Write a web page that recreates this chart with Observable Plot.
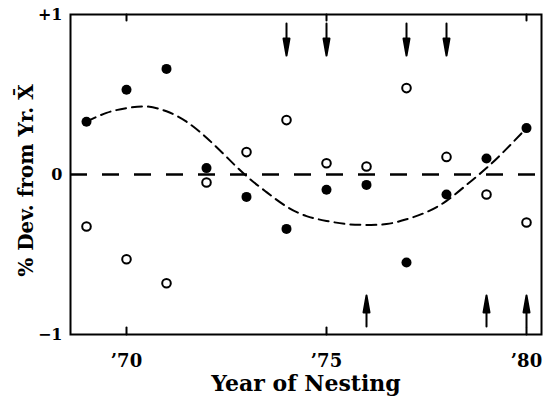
<!DOCTYPE html>
<html><head><meta charset="utf-8">
<script src="https://cdn.jsdelivr.net/npm/d3@7"></script>
<script src="https://cdn.jsdelivr.net/npm/@observablehq/plot@0.6"></script>
<style>body{margin:0;background:#fff}</style>
</head><body><div id="chart"></div>
<script>
// Years of nesting
const years = [1969, 1970, 1971, 1972, 1973, 1974, 1975, 1976, 1977, 1978, 1979, 1980];
// Filled circles (% deviation from yearly mean)
const filledValues = [0.33, 0.53, 0.66, 0.04, -0.14, -0.34, -0.095, -0.065, -0.55, -0.125, 0.10, 0.29];
// Open circles
const openValues = [-0.325, -0.53, -0.68, -0.05, 0.14, 0.34, 0.07, 0.05, 0.54, 0.11, -0.125, -0.30];
// Fitted dashed curve
const curveYears = [1969, 1969.5, 1970, 1970.5, 1971, 1971.5, 1972, 1972.5, 1973, 1973.5, 1974, 1974.5, 1975, 1975.5, 1976, 1976.5, 1977, 1977.5, 1978, 1978.5, 1979, 1979.5, 1980];
const curveValues = [0.33, 0.385, 0.415, 0.425, 0.395, 0.33, 0.23, 0.11, -0.01, -0.11, -0.20, -0.26, -0.29, -0.31, -0.315, -0.31, -0.28, -0.235, -0.165, -0.065, 0.04, 0.16, 0.29];
// Arrows
const downArrowYears = [1974, 1975, 1977, 1978];
const upArrowYears = [1976, 1979, 1980];
// Axis ticks and titles
const xTicks = [1970, 1975, 1980];
const xTickLabels = ["\u201970", "\u201975", "\u201980"];
const yTicks = [-1, 0, 1];
const yTickLabels = ["\u22121", "0", "+1"];
const xTitle = "Year of Nesting";
const yTitle = "% Dev. from Yr. X\u0304";

const filledData = years.map((y, i) => ({year: y, value: filledValues[i]}));
const openData = years.map((y, i) => ({year: y, value: openValues[i]}));
const curveData = curveYears.map((y, i) => ({year: y, value: curveValues[i]}));

const arrowShape = {
  draw(ctx, l) {
    const head = 17, w = 3;
    ctx.moveTo(0, 0); ctx.lineTo(0, -l + head);
    ctx.moveTo(0, -l); ctx.lineTo(-w, -l + head); ctx.lineTo(w, -l + head); ctx.closePath();
  }
};
const lineShape = { draw(ctx, l) { ctx.moveTo(0, 0); ctx.lineTo(0, -l); } };

const font = "'DejaVu Serif', serif";

const chart = Plot.plot({
  width: 544, height: 401,
  marginLeft: 70, marginRight: 3, marginTop: 14, marginBottom: 67,
  x: {domain: [1968.6, 1980.375]},
  y: {domain: [-1, 1]},
  style: {fontFamily: font, fontWeight: "bold", fontSize: "18px", background: "white", color: "black"},
  marks: [
    Plot.ruleY([0], {strokeWidth: 2.5, strokeDasharray: "17,15"}),
    Plot.line(curveData, {x: "year", y: "value", curve: "natural", strokeWidth: 2, strokeDasharray: "10,6"}),
    Plot.dot(filledData, {x: "year", y: "value", r: 5, fill: "black", stroke: "none"}),
    Plot.dot(openData, {x: "year", y: "value", r: 4.3, fill: "white", stroke: "black", strokeWidth: 2}),
    Plot.vector(downArrowYears, {x: d => d, frameAnchor: "top", dy: 9, anchor: "start", rotate: 180, length: 32, shape: arrowShape, fill: "black", stroke: "black", strokeWidth: 2}),
    Plot.vector(upArrowYears, {x: d => d, frameAnchor: "bottom", dy: -8, anchor: "start", rotate: 0, length: 31, shape: arrowShape, fill: "black", stroke: "black", strokeWidth: 2}),
    Plot.vector(xTicks, {x: d => d, frameAnchor: "bottom", anchor: "start", length: 7, shape: lineShape, strokeWidth: 2}),
    Plot.vector(xTicks, {x: d => d, frameAnchor: "top", anchor: "start", rotate: 180, length: 6, shape: lineShape, strokeWidth: 2}),
    Plot.axisX({ticks: xTicks, tickFormat: d => xTickLabels[xTicks.indexOf(d)], tickSize: 0, tickPadding: 20, fontSize: 18, label: null}),
    Plot.axisY({ticks: yTicks, tickFormat: d => yTickLabels[yTicks.indexOf(d)], tickSize: 0, tickPadding: 8, fontSize: 16, label: null}),
    Plot.text([xTitle], {text: d => d, frameAnchor: "bottom", dy: 56, textAnchor: "middle", lineAnchor: "bottom", fontSize: 22}),
    Plot.text([yTitle], {text: d => d, frameAnchor: "left", rotate: -90, dx: -38, dy: 6, textAnchor: "middle", lineAnchor: "bottom", fontSize: 20}),
    Plot.frame({strokeWidth: 2})
  ]
});
document.getElementById("chart").appendChild(chart);
</script>
</body></html>
